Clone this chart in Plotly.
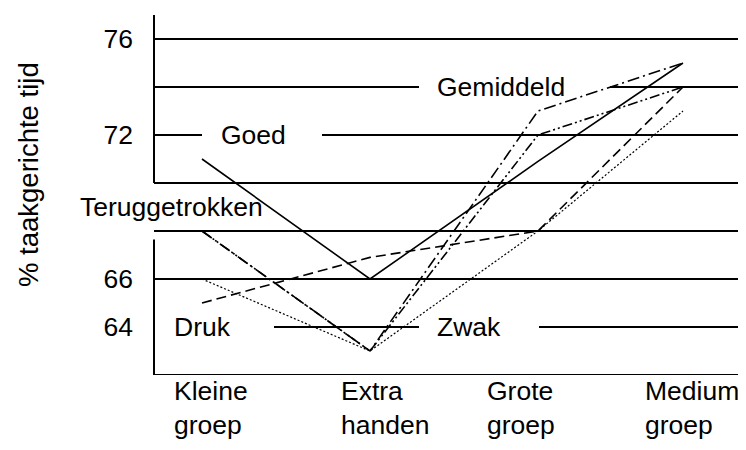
import plotly.graph_objects as go

# ---- data ----
categories = ["Kleine<br>groep", "Extra<br>handen", "Grote<br>groep", "Medium<br>groep"]
cat_x = [0, 1, 2, 2.863]          # horizontal placement of the four groups
goed = [71, 66, 70.9, 75]
gemiddeld = [68, 63, 73, 75]
teruggetrokken = [68, 63, 72, 74]
druk = [65, 66.9, 68, 74]
zwak = [66, 63, 68, 73]
y_tick_vals = [64, 66, 72, 76]
y_tick_text = ["64", "66", "72", "76"]
y_title = "% taakgerichte tijd"

FONT = "Liberation Sans, Arial, sans-serif"
# the page body adds an 8px offset, so the figure is 8px smaller than the window
W, H = 738, 442
ML, MR, MT, MB = 146, 0, 7, 75
PW = W - ML - MR
PH = H - MT - MB
PLOT_LEFT_PAGE = 154
PLOT_BOTTOM_PAGE = 375


def px(xp):
    return (xp - PLOT_LEFT_PAGE) / PW


def py(yp):
    return (PLOT_BOTTOM_PAGE - yp) / PH


series = [
    ("Goed", goed, dict(color="black", width=1.6, dash="solid")),
    ("Gemiddeld", gemiddeld, dict(color="black", width=1.6, dash="12px,4px,2px,4px")),
    ("Teruggetrokken", teruggetrokken, dict(color="black", width=1.6, dash="10px,3px,2px,3px,2px,3px")),
    ("Druk", druk, dict(color="black", width=1.6, dash="10px,5px")),
    ("Zwak", zwak, dict(color="black", width=1.2, dash="2px,2px")),
]

fig = go.Figure()
for name, vals, line in series:
    fig.add_trace(go.Scatter(x=cat_x, y=vals, mode="lines", name=name, line=line,
                             showlegend=False, hoverinfo="skip"))

# horizontal rules (with gaps where the labels sit)
rules = [
    (76, [(0, 1)]),
    (74, [(0, px(419)), (px(610), 1)]),
    (72, [(0, px(202)), (px(322), 1)]),
    (70, [(0, 1)]),
    (68, [(0, 1)]),
    (66, [(0, 1)]),
    (64, [(px(274), px(419)), (px(539), 1)]),
    (62, [(0, 1)]),
]
shapes = []
for yv, segs in rules:
    for a, b in segs:
        shapes.append(dict(type="line", xref="paper", yref="y", x0=a, x1=b, y0=yv, y1=yv,
                           line=dict(color="black", width=2), layer="below"))
# broken vertical axis
for y0, y1 in [(70, 77), (62, 67.65)]:
    shapes.append(dict(type="line", xref="paper", yref="y", x0=0, x1=0, y0=y0, y1=y1,
                       line=dict(color="black", width=2), layer="below"))

annotations = []
inline_labels = [
    ("Gemiddeld", 501, 74),
    ("Goed", 253.5, 72),
    ("Teruggetrokken", 171.5, 69),
    ("Druk", 202, 64),
    ("Zwak", 469, 64),
]
for txt, xc, yv in inline_labels:
    annotations.append(dict(text=txt, xref="paper", yref="y", x=px(xc), y=yv,
                            xanchor="center", yanchor="middle", showarrow=False,
                            font=dict(family=FONT, size=26.5, color="black")))

label_left = [172, 339, 485, 643]
for txt, xl in zip(categories, label_left):
    annotations.append(dict(text=txt, xref="paper", yref="paper", x=px(xl), y=py(374),
                            xanchor="left", yanchor="top", align="left", showarrow=False,
                            font=dict(family=FONT, size=26.5, color="black")))

annotations.append(dict(text=y_title, xref="paper", yref="paper", x=px(28), y=py(175),
                        xanchor="center", yanchor="middle", textangle=-90, showarrow=False,
                        font=dict(family=FONT, size=27.5, color="black")))

fig.update_layout(
    width=W, height=H,
    margin=dict(l=ML, r=MR, t=MT, b=MB, pad=0),
    paper_bgcolor="white", plot_bgcolor="white",
    xaxis=dict(range=[-48 / 168, 544 / 168], visible=False, fixedrange=True),
    yaxis=dict(range=[62, 77], tickvals=y_tick_vals, ticktext=y_tick_text,
               showgrid=False, zeroline=False, showline=False, ticks="",
               ticklabelstandoff=20,
               tickfont=dict(family=FONT, size=26.5, color="black"), fixedrange=True),
    shapes=shapes,
    annotations=annotations,
)

fig.write_html("out.html")
